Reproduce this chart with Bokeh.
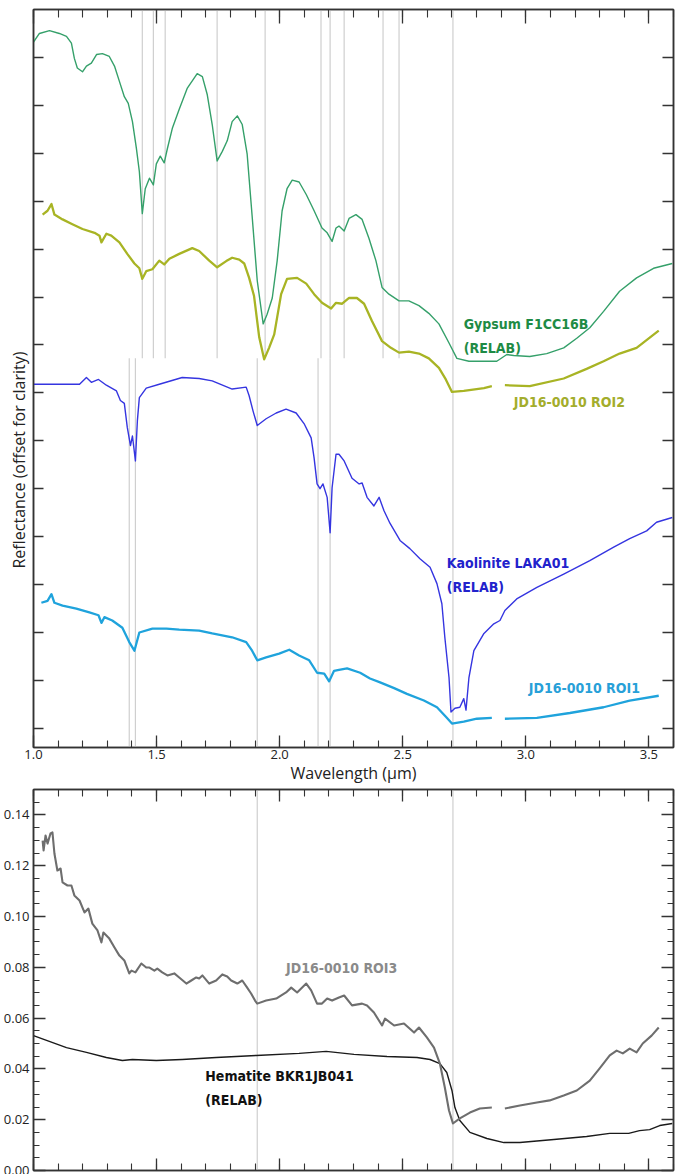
from bokeh.plotting import figure
from bokeh.models import LinearAxis, FixedTicker, CustomJSTickFormatter, ColumnDataSource, Title
from bokeh.layouts import column
from bokeh.core.properties import value
from bokeh.embed import file_html
from bokeh.resources import INLINE

NaN = float("nan")

# ---------------- data: top panel (offset reflectance) ----------------
gyp_wl = [1.0, 1.024, 1.065, 1.105, 1.134, 1.154, 1.166, 1.178, 1.199, 1.215, 1.235, 1.256, 1.280,
          1.308, 1.329, 1.349, 1.369, 1.385, 1.402, 1.418, 1.430, 1.442, 1.454, 1.471, 1.487, 1.499,
          1.515, 1.531, 1.544, 1.564, 1.592, 1.625, 1.665, 1.686, 1.706, 1.726, 1.746, 1.767, 1.787,
          1.807, 1.828, 1.848, 1.868, 1.888, 1.909, 1.933, 1.949, 1.970, 1.990, 2.010, 2.030, 2.051,
          2.079, 2.108, 2.140, 2.172, 2.193, 2.213, 2.229, 2.241, 2.262, 2.282, 2.310, 2.335, 2.363,
          2.391, 2.416, 2.444, 2.485, 2.525, 2.566, 2.606, 2.647, 2.688, 2.720, 2.769, 2.830, 2.882,
          2.923, 2.951, 3.016, 3.085, 3.154, 3.207, 3.260, 3.316, 3.381, 3.450, 3.519, 3.595]
gyp_r = [0.716, 0.725, 0.728, 0.725, 0.722, 0.715, 0.699, 0.689, 0.685, 0.691, 0.694, 0.703, 0.704,
         0.701, 0.691, 0.675, 0.659, 0.652, 0.633, 0.605, 0.581, 0.537, 0.563, 0.574, 0.567, 0.589,
         0.597, 0.590, 0.605, 0.626, 0.646, 0.668, 0.683, 0.680, 0.661, 0.630, 0.592, 0.602, 0.613,
         0.633, 0.639, 0.630, 0.599, 0.535, 0.467, 0.422, 0.432, 0.449, 0.488, 0.540, 0.563, 0.572,
         0.570, 0.557, 0.540, 0.522, 0.517, 0.508, 0.522, 0.524, 0.519, 0.532, 0.536, 0.531, 0.511,
         0.488, 0.460, 0.453, 0.446, 0.446, 0.441, 0.433, 0.422, 0.402, 0.386, 0.383, 0.383, 0.383,
         0.390, 0.389, 0.388, 0.391, 0.397, 0.407, 0.418, 0.435, 0.456, 0.470, 0.480, 0.485]

roi2_wl = [1.037, 1.057, 1.073, 1.085, 1.118, 1.158, 1.199, 1.248, 1.268, 1.276, 1.296, 1.316, 1.349,
           1.381, 1.410, 1.430, 1.442, 1.458, 1.483, 1.511, 1.531, 1.552, 1.592, 1.645, 1.673, 1.714,
           1.746, 1.783, 1.807, 1.836, 1.856, 1.876, 1.896, 1.917, 1.937, 1.957, 1.978, 2.006, 2.030,
           2.071, 2.108, 2.140, 2.172, 2.209, 2.229, 2.254, 2.282, 2.314, 2.343, 2.375, 2.416, 2.452,
           2.485, 2.525, 2.566, 2.606, 2.647, 2.675, 2.700, 2.748, 2.830, 2.862, NaN, 2.915, 3.016,
           3.154, 3.247, 3.316, 3.381, 3.450, 3.540]
roi2_r = [0.536, 0.540, 0.547, 0.536, 0.531, 0.526, 0.521, 0.517, 0.514, 0.507, 0.516, 0.514, 0.507,
          0.495, 0.485, 0.480, 0.469, 0.477, 0.479, 0.488, 0.484, 0.490, 0.495, 0.501, 0.498, 0.488,
          0.481, 0.4875, 0.491, 0.489, 0.485, 0.470, 0.451, 0.408, 0.385, 0.397, 0.411, 0.453, 0.469,
          0.470, 0.464, 0.453, 0.444, 0.438, 0.444, 0.443, 0.449, 0.449, 0.443, 0.425, 0.404, 0.397,
          0.392, 0.393, 0.391, 0.386, 0.376, 0.364, 0.351, 0.352, 0.355, 0.357, NaN, 0.358, 0.357,
          0.365, 0.375, 0.383, 0.391, 0.397, 0.415]

kao_wl = [1.0, 1.077, 1.187, 1.215, 1.235, 1.264, 1.296, 1.337, 1.353, 1.369, 1.381, 1.394, 1.402,
          1.414, 1.422, 1.430, 1.458, 1.511, 1.604, 1.673, 1.726, 1.807, 1.864, 1.876, 1.892, 1.909,
          1.945, 1.986, 2.026, 2.067, 2.099, 2.128, 2.140, 2.152, 2.164, 2.176, 2.193, 2.205, 2.213,
          2.229, 2.241, 2.262, 2.294, 2.323, 2.335, 2.355, 2.383, 2.404, 2.424, 2.448, 2.489, 2.529,
          2.570, 2.611, 2.639, 2.659, 2.671, 2.688, 2.696, 2.712, 2.732, 2.748, 2.757, 2.769, 2.789,
          2.830, 2.870, 2.895, 2.915, 2.963, 3.045, 3.154, 3.260, 3.357, 3.422, 3.491, 3.531, 3.595]
kao_r = [0.359, 0.359, 0.359, 0.366, 0.361, 0.364, 0.358, 0.352, 0.342, 0.339, 0.314, 0.295, 0.305,
         0.279, 0.321, 0.345, 0.355, 0.359, 0.366, 0.365, 0.3625, 0.354, 0.356, 0.347, 0.331, 0.316,
         0.323, 0.329, 0.333, 0.329, 0.318, 0.303, 0.282, 0.255, 0.250, 0.255, 0.241, 0.204, 0.251,
         0.286, 0.286, 0.279, 0.261, 0.255, 0.256, 0.241, 0.232, 0.241, 0.227, 0.214, 0.196, 0.1875,
         0.177, 0.168, 0.151, 0.130, 0.095, 0.053, 0.017, 0.021, 0.022, 0.031, 0.019, 0.053, 0.081,
         0.099, 0.109, 0.1125, 0.123, 0.135, 0.147, 0.161, 0.175, 0.189, 0.198, 0.206, 0.215, 0.220]

roi1_wl = [1.032, 1.057, 1.073, 1.085, 1.118, 1.174, 1.227, 1.264, 1.276, 1.288, 1.320, 1.361, 1.389,
           1.410, 1.430, 1.483, 1.540, 1.592, 1.673, 1.726, 1.807, 1.864, 1.888, 1.909, 1.945, 1.998,
           2.039, 2.079, 2.120, 2.152, 2.181, 2.201, 2.221, 2.241, 2.274, 2.327, 2.367, 2.408, 2.465,
           2.517, 2.586, 2.639, 2.679, 2.700, 2.748, 2.801, 2.862, NaN, 2.915, 3.045, 3.179, 3.316,
           3.422, 3.540]
roi1_r = [0.131, 0.133, 0.140, 0.131, 0.128, 0.125, 0.121, 0.118, 0.110, 0.116, 0.1125, 0.105, 0.090,
          0.081, 0.100, 0.104, 0.104, 0.103, 0.102, 0.099, 0.095, 0.090, 0.081, 0.071, 0.074, 0.078,
          0.082, 0.076, 0.071, 0.058, 0.057, 0.049, 0.060, 0.061, 0.0625, 0.058, 0.052, 0.048, 0.042,
          0.036, 0.029, 0.022, 0.011, 0.005, 0.007, 0.010, 0.011, NaN, 0.010, 0.011, 0.016, 0.022,
          0.029, 0.034]

gyp_bands = [1.442, 1.487, 1.535, 1.746, 1.941, 2.168, 2.205, 2.262, 2.420, 2.485]
kao_bands = [1.389, 1.414, 1.909, 2.156, 2.205]
shared_bands = [2.704]

# ---------------- data: bottom panel (reflectance) ----------------
roi3_wl = [1.037, 1.041, 1.049, 1.057, 1.069, 1.077, 1.085, 1.097, 1.110, 1.118, 1.138, 1.154, 1.166,
           1.187, 1.207, 1.223, 1.239, 1.260, 1.276, 1.284, 1.308, 1.329, 1.349, 1.369, 1.389, 1.398,
           1.414, 1.438, 1.458, 1.471, 1.491, 1.503, 1.523, 1.544, 1.572, 1.592, 1.621, 1.641, 1.661,
           1.673, 1.686, 1.714, 1.742, 1.767, 1.787, 1.803, 1.828, 1.848, 1.868, 1.884, 1.900, 1.909,
           1.945, 1.986, 2.026, 2.047, 2.071, 2.108, 2.128, 2.152, 2.172, 2.193, 2.213, 2.241, 2.262,
           2.294, 2.335, 2.355, 2.383, 2.416, 2.428, 2.465, 2.505, 2.546, 2.566, 2.598, 2.627, 2.651,
           2.671, 2.688, 2.704, 2.732, 2.773, 2.813, 2.862, NaN, 2.915, 2.976, 3.045, 3.097, 3.154,
           3.207, 3.260, 3.300, 3.341, 3.369, 3.394, 3.422, 3.450, 3.475, 3.511, 3.540]
roi3_r = [0.1299, 0.1260, 0.1319, 0.1287, 0.1327, 0.1331, 0.1248, 0.1181, 0.1189, 0.1134, 0.1122,
          0.1122, 0.1083, 0.1063, 0.1016, 0.1031, 0.0972, 0.0945, 0.0898, 0.0937, 0.0913, 0.0878,
          0.0846, 0.0827, 0.0776, 0.0787, 0.0780, 0.0815, 0.0799, 0.0799, 0.0787, 0.0795, 0.0780,
          0.0768, 0.0776, 0.0760, 0.0736, 0.0748, 0.0760, 0.0756, 0.0768, 0.0736, 0.0748, 0.0772,
          0.0764, 0.0748, 0.0736, 0.0748, 0.0720, 0.0697, 0.0669, 0.0657, 0.0669, 0.0677, 0.0701,
          0.0720, 0.0701, 0.0736, 0.0709, 0.0657, 0.0657, 0.0677, 0.0669, 0.0681, 0.0689, 0.0650,
          0.0657, 0.0650, 0.0622, 0.0571, 0.0598, 0.0571, 0.0579, 0.0543, 0.0563, 0.0524, 0.0484,
          0.0421, 0.0327, 0.0236, 0.0185, 0.0205, 0.0228, 0.0244, 0.0248, NaN, 0.0244, 0.0256,
          0.0268, 0.0276, 0.0295, 0.0315, 0.0354, 0.0402, 0.0453, 0.0472, 0.0461, 0.0480, 0.0465,
          0.0500, 0.0531, 0.0563]

hem_wl = [1.0, 1.053, 1.134, 1.215, 1.296, 1.361, 1.402, 1.499, 1.604, 1.742, 1.905, 2.079, 2.189,
          2.302, 2.436, 2.558, 2.611, 2.651, 2.679, 2.700, 2.712, 2.732, 2.773, 2.842, 2.911, 2.976,
          3.114, 3.247, 3.341, 3.418, 3.462, 3.503, 3.544, 3.595]
hem_r = [0.0531, 0.0512, 0.0484, 0.0465, 0.0445, 0.0433, 0.0437, 0.0433, 0.0437, 0.0445, 0.0453,
         0.0461, 0.0469, 0.0457, 0.0449, 0.0445, 0.0437, 0.0421, 0.0386, 0.0315, 0.0248, 0.0197,
         0.0150, 0.0126, 0.0110, 0.0110, 0.0122, 0.0134, 0.0146, 0.0146, 0.0157, 0.0161, 0.0177,
         0.0185]

bottom_bands = [1.909, 2.704]

x_major = [1.0, 1.5, 2.0, 2.5, 3.0, 3.5]
x_labels = ["1.0", "1.5", "2.0", "2.5", "3.0", "3.5"]
x_minor = [round(1.0 + 0.1 * i, 2) for i in range(27)]
top_y_ticks = [round(0.05 * i, 2) for i in range(15)]
bot_y_major = [0.00, 0.02, 0.04, 0.06, 0.08, 0.10, 0.12, 0.14]
bot_y_labels = ["0.00", "0.02", "0.04", "0.06", "0.08", "0.10", "0.12", "0.14"]
bot_y_minor = [round(0.005 * i, 3) for i in range(31)]

top_labels_text = ["Gypsum F1CC16B", "(RELAB)", "JD16-0010 ROI2", "Kaolinite LAKA01", "(RELAB)",
                   "JD16-0010 ROI1"]
top_labels_x = [2.748, 2.748, 2.951, 2.679, 2.679, 3.012]
top_labels_y = [0.422, 0.397, 0.340, 0.173, 0.147, 0.042]
top_labels_col = ["#1e8b45", "#1e8b45", "#a3ad2c", "#2222cc", "#2222cc", "#27a0d8"]

bot_labels_text = ["JD16-0010 ROI3", "Hematite BKR1JB041", "(RELAB)"]
bot_labels_x = [2.026, 1.698, 1.698]
bot_labels_y = [0.0799, 0.0374, 0.0276]
bot_labels_col = ["#8a8a8a", "#111111", "#111111"]

FONT = "Open Sans"
LABEL_FONT = "DejaVu Sans Condensed"
FRAME = "#333333"


def style_axis(ax, major_in, minor_in, show_labels=False):
    ax.major_tick_in = major_in
    ax.major_tick_out = 0
    ax.minor_tick_in = minor_in
    ax.minor_tick_out = 0
    ax.axis_line_color = FRAME
    ax.axis_line_width = 1.5
    ax.major_tick_line_color = FRAME
    ax.minor_tick_line_color = FRAME
    ax.major_tick_line_width = 1.3
    ax.minor_tick_line_width = 1.1
    if not show_labels:
        ax.formatter = CustomJSTickFormatter(code="return ''")
        ax.major_label_text_font_size = "0px"
        ax.major_label_standoff = 0


# ---------------- top figure ----------------
p1 = figure(width=678, height=787, x_range=(1.0, 3.6), y_range=(-0.02, 0.75),
            output_backend="svg", toolbar_location=None,
            min_border_left=33, min_border_right=5, min_border_top=9, min_border_bottom=40)
p1.grid.visible = False
p1.outline_line_color = FRAME
p1.outline_line_width = 1.5

p1.xaxis.ticker = FixedTicker(ticks=x_major, minor_ticks=x_minor)
p1.xaxis.major_label_overrides = {t: l for t, l in zip(x_major, x_labels)}
style_axis(p1.xaxis[0], 12, 7, show_labels=True)
p1.xaxis.major_label_text_font = FONT
p1.xaxis.major_label_text_font_size = "13px"
p1.xaxis.major_label_text_color = "#222222"
p1.xaxis.major_label_standoff = 2
p1.xaxis.axis_label = "Wavelength (µm)"
p1.xaxis.axis_label_text_font = FONT
p1.xaxis.axis_label_text_font_size = "16px"
p1.xaxis.axis_label_text_font_style = "normal"
p1.xaxis.axis_label_text_color = "#222222"
p1.xaxis.axis_label_standoff = 0

p1.yaxis.ticker = FixedTicker(ticks=top_y_ticks, minor_ticks=[])
style_axis(p1.yaxis[0], 10, 0)

ax_top1 = LinearAxis(ticker=FixedTicker(ticks=x_major, minor_ticks=x_minor))
style_axis(ax_top1, 14, 8)
p1.add_layout(ax_top1, "above")
ax_right1 = LinearAxis(ticker=FixedTicker(ticks=top_y_ticks, minor_ticks=[]))
style_axis(ax_right1, 11, 0)
p1.add_layout(ax_right1, "right")

p1.add_layout(Title(text="Reflectance (offset for clarity)", align="left", offset=179,
                    standoff=8, text_font=FONT, text_font_size="16px", text_font_style="normal",
                    text_color="#222222"), "left")

# absorption band guide lines
p1.segment(x0=gyp_bands, x1=gyp_bands, y0=[0.386] * len(gyp_bands), y1=[0.75] * len(gyp_bands),
           line_color="#cfcfcf", line_width=1.2)
p1.segment(x0=kao_bands, x1=kao_bands, y0=[-0.02] * len(kao_bands), y1=[0.386] * len(kao_bands),
           line_color="#cfcfcf", line_width=1.2)
p1.segment(x0=shared_bands, x1=shared_bands, y0=[-0.02], y1=[0.75],
           line_color="#cfcfcf", line_width=1.2)

p1.line(gyp_wl, gyp_r, line_color="#35a06a", line_width=1.4, line_join="round")
p1.line(roi2_wl, roi2_r, line_color="#a8b424", line_width=2.3, line_join="round")
p1.line(kao_wl, kao_r, line_color="#3535e0", line_width=1.4, line_join="round")
p1.line(roi1_wl, roi1_r, line_color="#1fa3dc", line_width=2.3, line_join="round")

src1 = ColumnDataSource(dict(x=top_labels_x, y=top_labels_y, text=top_labels_text, c=top_labels_col))
p1.text(x="x", y="y", text="text", text_color="c", source=src1, text_font=value(LABEL_FONT),
        text_font_style="bold", text_font_size="14px", text_baseline="middle", text_align="left")

# ---------------- bottom figure ----------------
p2 = figure(width=678, height=387, x_range=(1.0, 3.6), y_range=(0.0, 0.15),
            output_backend="svg", toolbar_location=None,
            min_border_left=33, min_border_right=5, min_border_top=2, min_border_bottom=4)
p2.grid.visible = False
p2.outline_line_color = FRAME
p2.outline_line_width = 1.5

p2.xaxis.ticker = FixedTicker(ticks=x_major, minor_ticks=x_minor)
style_axis(p2.xaxis[0], 12, 7)
p2.yaxis.ticker = FixedTicker(ticks=bot_y_major, minor_ticks=bot_y_minor)
style_axis(p2.yaxis[0], 12, 6, show_labels=True)
p2.yaxis.major_label_overrides = {t: l for t, l in zip(bot_y_major, bot_y_labels)}
p2.yaxis.major_label_text_font = FONT
p2.yaxis.major_label_text_font_size = "13px"
p2.yaxis.major_label_text_color = "#222222"
p2.yaxis.major_label_standoff = 4

ax_top2 = LinearAxis(ticker=FixedTicker(ticks=x_major, minor_ticks=x_minor))
style_axis(ax_top2, 12, 7)
p2.add_layout(ax_top2, "above")
ax_right2 = LinearAxis(ticker=FixedTicker(ticks=bot_y_major, minor_ticks=bot_y_minor))
style_axis(ax_right2, 12, 6)
p2.add_layout(ax_right2, "right")

p2.segment(x0=bottom_bands, x1=bottom_bands, y0=[0.0] * 2, y1=[0.15] * 2,
           line_color="#cfcfcf", line_width=1.2)
p2.line(hem_wl, hem_r, line_color="#1a1a1a", line_width=1.4, line_join="round")
p2.line(roi3_wl, roi3_r, line_color="#6e6e6e", line_width=2.1, line_join="round")

src2 = ColumnDataSource(dict(x=bot_labels_x, y=bot_labels_y, text=bot_labels_text, c=bot_labels_col))
p2.text(x="x", y="y", text="text", text_color="c", source=src2, text_font=value(LABEL_FONT),
        text_font_style="bold", text_font_size="14px", text_baseline="middle", text_align="left")

layout = column(p1, p2, spacing=0)
open("out.html", "w").write(file_html(layout, INLINE))
